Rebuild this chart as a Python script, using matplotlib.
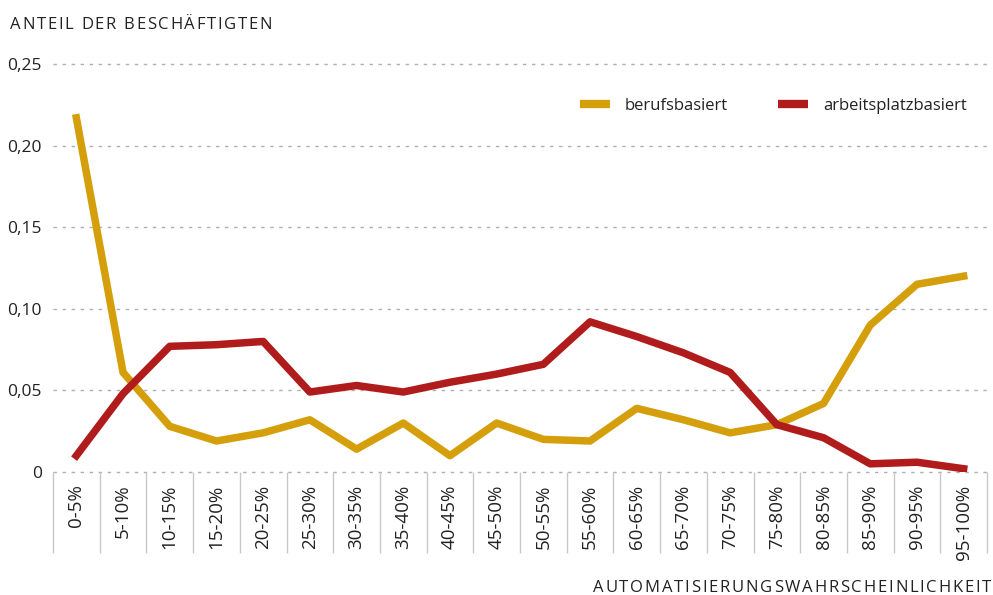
import numpy as np
import matplotlib
matplotlib.use("Agg")
import matplotlib.pyplot as plt
from matplotlib import font_manager
from matplotlib.ft2font import FT2Font
from matplotlib.ticker import FixedLocator, FuncFormatter
from matplotlib.transforms import IdentityTransform

categories = ["0-5%", "5-10%", "10-15%", "15-20%", "20-25%", "25-30%", "30-35%",
              "35-40%", "40-45%", "45-50%", "50-55%", "55-60%", "60-65%", "65-70%",
              "70-75%", "75-80%", "80-85%", "85-90%", "90-95%", "95-100%"]
berufsbasiert = [0.217, 0.061, 0.028, 0.019, 0.024, 0.032, 0.014, 0.030, 0.010, 0.030,
                 0.020, 0.019, 0.039, 0.032, 0.024, 0.029, 0.042, 0.090, 0.115, 0.120]
arbeitsplatzbasiert = [0.010, 0.048, 0.077, 0.078, 0.080, 0.049, 0.053, 0.049, 0.055, 0.060,
                       0.066, 0.092, 0.083, 0.073, 0.061, 0.029, 0.021, 0.005, 0.006, 0.002]
yticks = [0, 0.05, 0.10, 0.15, 0.20, 0.25]

GOLD = "#D49F0A"
RED = "#B01C1C"
TXT = "#222222"
plt.rcParams["font.family"] = ["Open Sans", "DejaVu Sans"]

fig = plt.figure(figsize=(9.93, 5.95), dpi=100)
ax = fig.add_axes([53 / 993, 1 - 472 / 595, 934 / 993, 408 / 595])


def tracked_text(s, x0, x1, ypx, size):
    """Draw s letter by letter so it spans pixel range x0..x1 (letter spacing)."""
    font = FT2Font(font_manager.findfont("Open Sans"))
    font.set_size(size, 100)
    adv = [font.load_char(ord(ch)).linearHoriAdvance / 65536 for ch in s]
    gap = (x1 - x0 - sum(adv)) / (len(s) - 1)
    xp = x0
    for ch, a in zip(s, adv):
        fig.text(xp, 595 - ypx, ch, fontsize=size, color=TXT, va="center", ha="left",
                 transform=IdentityTransform())
        xp += a + gap


x = np.arange(len(categories))
ax.plot(x, berufsbasiert, color=GOLD, lw=5.4, label="berufsbasiert")
ax.plot(x, arbeitsplatzbasiert, color=RED, lw=5.4, label="arbeitsplatzbasiert")

ax.set_xlim(-0.5, len(categories) - 0.5)
ax.set_ylim(0, 0.25)

for s in ax.spines.values():
    s.set_visible(False)

# y grid (dotted)
ax.set_yticks(yticks)
ax.yaxis.set_major_formatter(FuncFormatter(lambda v, p: "0" if v == 0 else f"{v:.2f}".replace(".", ",")))
ax.tick_params(axis="y", length=0, pad=8, labelsize=12.5, labelcolor=TXT)
for yv in yticks:
    ax.axhline(yv, xmin=0, xmax=1.003, color="#b0b0b0", lw=1, ls=(0, (2.5, 4)), zorder=0, clip_on=False)

# x labels and separators
ax.set_xticks(x)
ax.set_xticklabels(categories, rotation=90, va="top", ha="center")
ax.tick_params(axis="x", which="major", length=0, pad=9, labelsize=13.5, labelcolor=TXT)
ax.xaxis.set_minor_locator(FixedLocator(np.arange(-0.5, len(categories), 1)))
ax.tick_params(axis="x", which="minor", length=58, width=1, color="#c8c8c8", direction="out")

tracked_text("ANTEIL DER BESCHÄFTIGTEN", 10, 272, 25, 12)
tracked_text("AUTOMATISIERUNGSWAHRSCHEINLICHKEIT", 593, 991, 588, 12)

leg = ax.legend(ncol=2, frameon=False, loc="center right", bbox_to_anchor=(982 / 993, 1 - 106 / 595),
                bbox_transform=fig.transFigure, fontsize=12, handlelength=1.8, handletextpad=0.9,
                columnspacing=3.0, labelcolor=TXT)
for h in leg.get_lines():
    h.set_linewidth(6)
    h.set_solid_capstyle("butt")

plt.savefig("out.png", dpi=100)
